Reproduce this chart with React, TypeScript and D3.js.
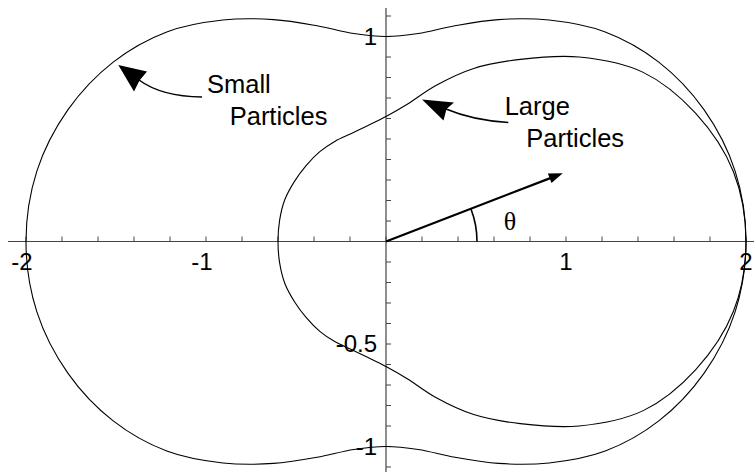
import React from "react";
import * as d3 from "d3";

// ---- data ----
// scattering angle in degrees (upper half; lower half is its mirror image)
const angles = [0, 10, 20, 30, 40, 50, 60, 70, 80, 90, 100, 110, 120, 130, 140, 150, 160, 170, 180];
// polar radius of the "Small Particles" curve
const smallR = [2.0, 1.97, 1.88, 1.75, 1.59, 1.41, 1.25, 1.12, 1.03, 1.0, 1.03, 1.12, 1.25, 1.41, 1.59, 1.75, 1.88, 1.97, 2.0];
// polar radius of the "Large Particles" curve
const largeR = [2.0, 1.96, 1.83, 1.65, 1.4, 1.16, 0.975, 0.81, 0.68, 0.61, 0.575, 0.561, 0.565, 0.572, 0.578, 0.587, 0.598, 0.6, 0.6];

const xTickLabels = [-2, -1, 1, 2];
const yTickLabels = [1, -0.5, -1];
const thetaVector = [0.982, 0.333]; // direction arrow end, data units

const W = 754;
const H = 472;

export default function App() {
  const x = d3.scaleLinear().domain([-2, 2]).range([26, 746]);
  const y = d3.scaleLinear().domain([-1, 1]).range([446.5, 36.5]);

  const toPoints = (rs: number[]) => {
    const up = angles.map((a, i) => [rs[i], a] as [number, number]);
    const down = angles
      .slice(1, -1)
      .reverse()
      .map((a, j) => [rs[angles.length - 2 - j], 360 - a] as [number, number]);
    return up.concat(down).map(([r, a]) => {
      const t = (a * Math.PI) / 180;
      return [x(r * Math.cos(t)), y(r * Math.sin(t))] as [number, number];
    });
  };

  const line = d3.line().curve(d3.curveCatmullRomClosed.alpha(0.5));
  const smallPath = line(toPoints(smallR)) || "";
  const largePath = line(toPoints(largeR)) || "";

  const xTicks = d3.range(-10, 11).map((k) => k * 0.2);
  const yTicks = d3.range(-11, 12).map((k) => k * 0.1);

  const x0 = x(0);
  const y0 = y(0);

  // theta arrow
  const tx = x(thetaVector[0]);
  const ty = y(thetaVector[1]);
  const ang = Math.atan2(ty - y0, tx - x0);
  const hl = 14;
  const hw = 5;
  const bx = tx - hl * Math.cos(ang);
  const by = ty - hl * Math.sin(ang);
  const head = `M${tx},${ty} L${bx - hw * Math.sin(ang)},${by + hw * Math.cos(ang)} L${bx + hw * Math.sin(ang)},${by - hw * Math.cos(ang)} Z`;
  const arcP = d3.path();
  const arcR = 91;
  arcP.moveTo(x0 + arcR, y0);
  arcP.arc(x0, y0, arcR, 0, ang, true);

  const axisFont = "'Liberation Sans', Arial, Helvetica, sans-serif";
  const fs = 24;
  const annFs = 25.5;

  return (
    <svg
      width={W}
      height={H}
      style={{ position: "absolute", left: 0, top: 0, background: "#fff" }}
    >
      <rect width={W} height={H} fill="#fff" />
      {/* axes */}
      <line x1={8} x2={754} y1={y0} y2={y0} stroke="#444" strokeWidth={1.2} />
      <line x1={x0} x2={x0} y1={8} y2={472} stroke="#444" strokeWidth={1.2} />
      {xTicks.map((v, i) => (
        <line key={"xt" + i} x1={x(v)} x2={x(v)} y1={y0} y2={y0 - 5} stroke="#444" strokeWidth={1} />
      ))}
      {yTicks.map((v, i) => (
        <line key={"yt" + i} x1={x0} x2={x0 + 5} y1={y(v)} y2={y(v)} stroke="#444" strokeWidth={1} />
      ))}
      {xTickLabels.map((v) => (
        <text
          key={"xl" + v}
          x={x(v) + 0.278 * fs}
          y={y0 + 28}
          textAnchor="end"
          fontFamily={axisFont}
          fontSize={fs}
          fill="#000"
        >
          {String(v)}
        </text>
      ))}
      {yTickLabels.map((v) => (
        <text
          key={"yl" + v}
          x={x0 - 9}
          y={y(v) + 8}
          textAnchor="end"
          fontFamily={axisFont}
          fontSize={fs}
          fill="#000"
        >
          {String(v)}
        </text>
      ))}

      {/* curves */}
      <path d={smallPath} fill="none" stroke="#000" strokeWidth={1.1} />
      <path d={largePath} fill="none" stroke="#000" strokeWidth={1.1} />

      {/* theta */}
      <line x1={x0} y1={y0} x2={bx + 2 * Math.cos(ang)} y2={by + 2 * Math.sin(ang)} stroke="#000" strokeWidth={2.3} />
      <path d={head} fill="#000" />
      <path d={arcP.toString()} fill="none" stroke="#000" strokeWidth={1.6} />
      <text
        x={510}
        y={230}
        textAnchor="middle"
        fontFamily="'Liberation Serif', 'Times New Roman', serif"
        fontSize={26}
        fill="#000"
      >
        θ
      </text>

      {/* annotations */}
      <path d="M202,97 Q161.5,96.5 139,80" fill="none" stroke="#000" strokeWidth={1.5} />
      <path d="M118.3,65 L134,91.5 L139.5,80.5 L147,71.5 Z" fill="#000" />
      <text x={207} y={92.5} fontFamily={axisFont} fontSize={annFs} fill="#000">Small</text>
      <text x={229.7} y={125} fontFamily={axisFont} fontSize={annFs} fill="#000">Particles</text>

      <path d="M508.3,122.5 Q472.8,120.3 446,109" fill="none" stroke="#000" strokeWidth={1.5} />
      <path d="M422,99.5 L443.5,120.5 L446.5,109 L454,102.5 Z" fill="#000" />
      <text x={504.7} y={115} fontFamily={axisFont} fontSize={annFs} fill="#000">Large</text>
      <text x={526.3} y={146.7} fontFamily={axisFont} fontSize={annFs} fill="#000">Particles</text>
    </svg>
  );
}
